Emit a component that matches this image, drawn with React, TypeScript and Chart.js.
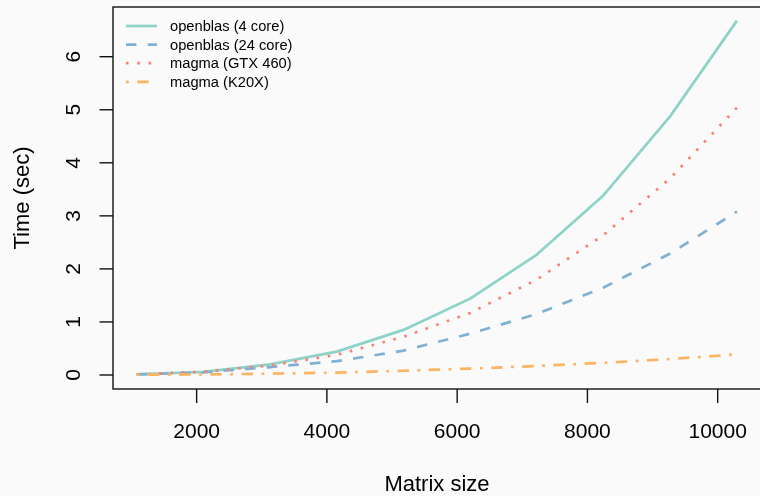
import React, { useEffect, useRef } from "react";
import { Chart, registerables } from "chart.js";

Chart.register(...registerables);

const matrixSizes = [1080, 2104, 3128, 4152, 5176, 6200, 7224, 8248, 9272, 10296];
const openblas4 = [0.01, 0.06, 0.2, 0.44, 0.85, 1.44, 2.27, 3.39, 4.88, 6.68];
const openblas24 = [0.01, 0.05, 0.15, 0.26, 0.46, 0.78, 1.15, 1.65, 2.29, 3.08];
const magmaGTX460 = [0.01, 0.06, 0.18, 0.38, 0.72, 1.17, 1.8, 2.64, 3.71, 5.04];
const magmaK20X = [0.005, 0.01, 0.025, 0.045, 0.08, 0.12, 0.17, 0.23, 0.3, 0.39];

const seriesLabels = ["openblas (4 core)", "openblas (24 core)", "magma (GTX 460)", "magma (K20X)"];
const seriesColors = ["#8DD3C7", "#80B1D3", "#FB8072", "#FDB462"];
const seriesDashes: number[][] = [[], [10.5, 11.2], [2.6, 8.7], [2.8, 8.5, 11.4, 8.5]];

const xTicks = [2000, 4000, 6000, 8000, 10000];
const yTicks = [0, 1, 2, 3, 4, 5, 6];
const xTitle = "Matrix size";
const yTitle = "Time (sec)";

const FONT = '"Liberation Sans", Arial, Helvetica, sans-serif';

export default function App() {
  const ref = useRef<HTMLCanvasElement | null>(null);

  useEffect(() => {
    document.body.style.margin = "0";
    document.body.style.background = "#fafafa";
    const canvas = ref.current!;
    const allSeries = [openblas4, openblas24, magmaGTX460, magmaK20X];

    const framePlugin = {
      id: "rframe",
      afterDraw(chart: any) {
        const { ctx, chartArea } = chart;
        const xs = chart.scales.x;
        const ys = chart.scales.y;
        const { left, top, right, bottom } = chartArea;
        ctx.save();
        ctx.strokeStyle = "#111";
        ctx.fillStyle = "#000";
        ctx.lineWidth = 1.4;
        ctx.setLineDash([]);
        ctx.strokeRect(left, top, right - left, bottom - top);

        // x ticks
        ctx.font = `21px ${FONT}`;
        ctx.textAlign = "center";
        ctx.textBaseline = "alphabetic";
        xTicks.forEach((v) => {
          const px = xs.getPixelForValue(v);
          ctx.beginPath();
          ctx.moveTo(px, bottom);
          ctx.lineTo(px, bottom + 14);
          ctx.stroke();
          ctx.fillText(String(v), px, bottom + 49);
        });
        // y ticks
        yTicks.forEach((v) => {
          const py = ys.getPixelForValue(v);
          ctx.beginPath();
          ctx.moveTo(left - 13.5, py);
          ctx.lineTo(left, py);
          ctx.stroke();
          ctx.save();
          ctx.translate(left - 33, py);
          ctx.rotate(-Math.PI / 2);
          ctx.fillText(String(v), 0, 0);
          ctx.restore();
        });
        // titles
        ctx.font = `22px ${FONT}`;
        ctx.fillText(xTitle, (left + right) / 2, 491);
        ctx.save();
        ctx.translate(28.5, (top + bottom) / 2);
        ctx.rotate(-Math.PI / 2);
        ctx.fillText(yTitle, 0, 0);
        ctx.restore();

        // legend
        ctx.font = `14.7px ${FONT}`;
        ctx.textAlign = "left";
        ctx.textBaseline = "middle";
        seriesLabels.forEach((lab, i) => {
          const ly = top + 19 + i * 18.6;
          ctx.save();
          ctx.strokeStyle = seriesColors[i];
          ctx.lineWidth = 2.7;
          ctx.lineCap = "butt";
          ctx.setLineDash(seriesDashes[i]);
          ctx.beginPath();
          ctx.moveTo(left + 13, ly);
          ctx.lineTo(left + 44, ly);
          ctx.stroke();
          ctx.restore();
          ctx.fillText(lab, left + 57, ly + 1);
        });
        ctx.restore();
      },
    };

    const chart = new Chart(canvas, {
      type: "line",
      data: {
        datasets: allSeries.map((vals, i) => ({
          label: seriesLabels[i],
          data: matrixSizes.map((s, j) => ({ x: s, y: vals[j] })),
          borderColor: seriesColors[i],
          backgroundColor: seriesColors[i],
          borderWidth: 2.7,
          borderDash: seriesDashes[i],
          borderCapStyle: "butt",
          borderJoinStyle: "round",
          pointRadius: 0,
          tension: 0,
          fill: false,
          order: 4 - i,
        })),
      },
      options: {
        animation: false,
        responsive: false,
        devicePixelRatio: 1,
        layout: { padding: { left: 113, top: 7, right: 9, bottom: 107 } },
        plugins: { legend: { display: false }, tooltip: { enabled: false } },
        scales: {
          x: { type: "linear", min: 716, max: 10665, display: false },
          y: { type: "linear", min: -0.264, max: 6.937, display: false },
        },
      },
      plugins: [framePlugin],
    } as any);

    return () => chart.destroy();
  }, []);

  return (
    <div style={{ position: "relative", width: 760, height: 496, overflow: "hidden", background: "#fafafa" }}>
      <canvas ref={ref} width={770} height={496} style={{ display: "block", width: 770, height: 496 }} />
    </div>
  );
}
